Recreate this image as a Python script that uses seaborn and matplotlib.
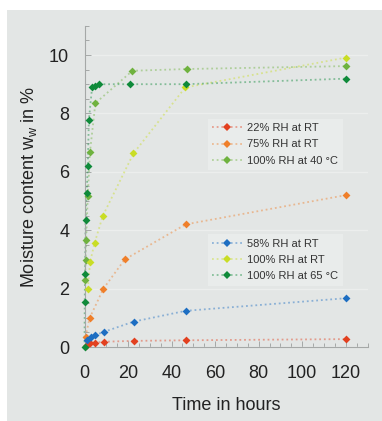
import matplotlib
matplotlib.use("Agg")
import matplotlib.pyplot as plt
from matplotlib.patches import Rectangle
from matplotlib.lines import Line2D
from matplotlib.ticker import MultipleLocator
import seaborn as sns
import pandas as pd

# ---- data ----
labels = ["22% RH at RT", "75% RH at RT", "100% RH at 40 °C",
          "58% RH at RT", "100% RH at RT", "100% RH at 65 °C"]

t_22 = [0.5, 2.3, 4.9, 8.9, 22.6, 46.6, 120]
w_22 = [0.02, 0.12, 0.15, 0.18, 0.21, 0.23, 0.27]

t_75 = [0.5, 2.3, 8.7, 18.5, 46.5, 120]
w_75 = [0.35, 0.98, 2.0, 3.0, 4.2, 5.2]

t_40 = [0.25, 0.5, 0.75, 1.5, 2.5, 5.0, 22.0, 47.0, 120]
w_40 = [2.3, 2.98, 3.66, 5.17, 6.67, 8.35, 9.46, 9.52, 9.62]

t_58 = [1.0, 3.0, 5.0, 9.0, 22.6, 46.6, 120]
w_58 = [0.24, 0.35, 0.41, 0.52, 0.87, 1.24, 1.67]

t_rt = [1.5, 2.6, 4.6, 8.4, 22.5, 46.3, 120]
w_rt = [2.0, 2.92, 3.55, 4.49, 6.63, 8.89, 9.91]

t_65 = [0, 0.1, 0.25, 0.5, 1.0, 1.5, 2.0, 3.5, 5.0, 6.5, 21.0, 46.6, 120]
w_65 = [0, 1.55, 2.5, 4.35, 5.28, 6.2, 7.77, 8.91, 8.95, 9.0, 9.0, 9.0, 9.19]

x_ticks = [0, 20, 40, 60, 80, 100, 120]
y_ticks = [0, 2, 4, 6, 8, 10]

colors = ["#e2401f", "#ef7f2a", "#6fb23f", "#1d6ec2", "#c9dd25", "#0f8a3a"]
series_t = [t_22, t_75, t_40, t_58, t_rt, t_65]
series_w = [w_22, w_75, w_40, w_58, w_rt, w_65]

frames = []
for lab, tt, ww in zip(labels, series_t, series_w):
    frames.append(pd.DataFrame({"t": tt, "w": ww, "series": lab}))
df = pd.concat(frames, ignore_index=True)

# ---- style ----
sns.set_style("ticks")
plt.rcParams["font.family"] = ["Liberation Sans", "DejaVu Sans"]
bg = "#e3e6e5"

fig = plt.figure(figsize=(3.82, 4.21), dpi=100, facecolor="white")
fig.patches.append(Rectangle((7 / 382, 0), 1 - 7 / 382, 1 - 10 / 421,
                             transform=fig.transFigure, facecolor=bg,
                             edgecolor="none", zorder=-10))
ax = fig.add_axes([84.5 / 382, 74 / 421, 283 / 382, 321.2 / 421])
ax.set_facecolor("none")

palette = dict(zip(labels, colors))
for lab in labels:
    sub = df[df["series"] == lab]
    sns.lineplot(data=sub, x="t", y="w", ax=ax, color=palette[lab],
                 linestyle=(0, (1, 1.6)), linewidth=1.3, alpha=0.45,
                 estimator=None, sort=True, legend=False, clip_on=False)
    sns.scatterplot(data=sub, x="t", y="w", ax=ax, color=palette[lab],
                    marker="D", s=16, linewidth=0, legend=False,
                    clip_on=False, zorder=5)

ax.set_xlim(0, 130)
ax.set_ylim(0, 11)
ax.set_xticks(x_ticks)
ax.set_yticks(y_ticks)
ax.xaxis.set_minor_locator(MultipleLocator(5))
ax.yaxis.set_minor_locator(MultipleLocator(0.5))
ax.tick_params(axis="both", which="both", direction="in", color="#a5a8a7",
               width=0.7, labelsize=13, labelcolor="#222222")
ax.tick_params(axis="both", which="major", length=4)
ax.tick_params(axis="both", which="minor", length=3)
ax.tick_params(axis="x", which="major", pad=13)
ax.tick_params(axis="y", which="major", pad=11)

for s in ["top", "right"]:
    ax.spines[s].set_visible(False)
for s in ["left", "bottom"]:
    ax.spines[s].set_color("#a5a8a7")
    ax.spines[s].set_linewidth(0.8)

ax.yaxis.grid(True, which="major", color="#eceeed", linewidth=1.0)
ax.set_axisbelow(True)

ax.set_xlabel("Time in hours", fontsize=13, color="#222222", labelpad=11)
ax.set_ylabel(r"Moisture content w$_\mathregular{w}$ in %", fontsize=13,
              color="#222222", labelpad=7)


def handle(c):
    r, g, b = matplotlib.colors.to_rgb(c)
    return Line2D([], [], color=(r, g, b, 0.45), linestyle=(0, (1, 1.6)),
                  linewidth=1.3, marker="D", markersize=4,
                  markerfacecolor=c, markeredgewidth=0)


leg_kw = dict(fontsize=8, handlelength=2.7, handletextpad=0.45,
              labelspacing=0.55, borderpad=0.4, frameon=True,
              facecolor="#e9eceb", edgecolor="none", framealpha=1,
              loc="center left", bbox_transform=fig.transFigure,
              borderaxespad=0, fancybox=False)
leg1 = ax.legend([handle(c) for c in colors[:3]], labels[:3],
                 bbox_to_anchor=(208 / 382, 1 - 144.5 / 421), **leg_kw)
for txt in leg1.get_texts():
    txt.set_color("#333333")
ax.add_artist(leg1)
leg2 = ax.legend([handle(c) for c in colors[3:]], labels[3:],
                 bbox_to_anchor=(208 / 382, 1 - 260 / 421), **leg_kw)
for txt in leg2.get_texts():
    txt.set_color("#333333")

fig.savefig("out.png", dpi=100, facecolor="white")
